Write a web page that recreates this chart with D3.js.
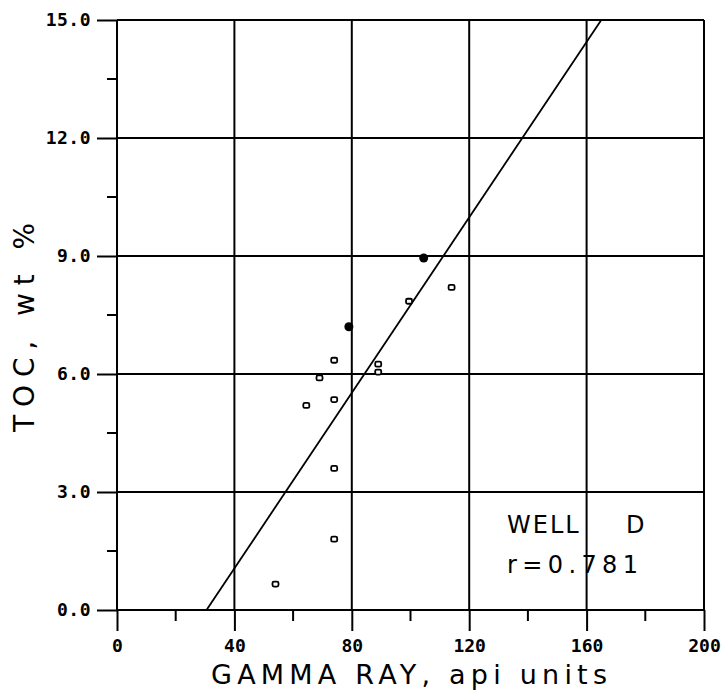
<!DOCTYPE html>
<html>
<head>
<meta charset="utf-8">
<script src="https://cdn.jsdelivr.net/npm/d3@7"></script>
<style>
  body { margin: 0; background: #fff; }
  svg text { fill: #000; }
</style>
</head>
<body>
<svg width="727" height="692"></svg>
<script>
const width = 727;
const height = 692;
const margin = { top: 20, right: 23, bottom: 82, left: 117 };

// data
const openGR = [54, 64.5, 69, 74, 74, 74, 74, 89, 89, 99.5, 114];
const openTOC = [0.66, 5.2, 5.9, 6.35, 5.35, 3.6, 1.8, 6.25, 6.05, 7.85, 8.2];
const filledGR = [79, 104.5];
const filledTOC = [7.2, 8.95];
const fitGR = [30.5, 165];
const fitTOC = [0, 15];

const xMajor = [0, 40, 80, 120, 160, 200];
const xMinor = [20, 60, 100, 140, 180];
const yMajor = [0, 3, 6, 9, 12, 15];
const yMinor = [1.5, 4.5, 7.5, 10.5, 13.5];

const svg = d3.select("svg");

const x = d3.scaleLinear()
  .domain([0, 200])
  .range([margin.left, width - margin.right]);

const y = d3.scaleLinear()
  .domain([0, 15])
  .range([height - margin.bottom, margin.top]);

const x0 = x(0), x1 = x(200), y0 = y(0), y1 = y(15);

// grid
svg.append("g")
  .selectAll("line")
  .data(xMajor)
  .join("line")
  .attr("x1", d => x(d)).attr("x2", d => x(d))
  .attr("y1", y1).attr("y2", y0)
  .attr("stroke", "#000").attr("stroke-width", 2);

svg.append("g")
  .selectAll("line")
  .data(yMajor)
  .join("line")
  .attr("x1", x0).attr("x2", x1)
  .attr("y1", d => y(d)).attr("y2", d => y(d))
  .attr("stroke", "#000").attr("stroke-width", 2);

// x axis ticks
const xAxis = svg.append("g")
  .attr("transform", `translate(0,${y0})`);
xAxis.call(d3.axisBottom(x).tickValues(xMajor).tickSize(21).tickPadding(8)
  .tickFormat(d3.format("d")));
xAxis.select(".domain").remove();
xAxis.selectAll("line").attr("stroke-width", 2);
xAxis.selectAll("text")
  .attr("font-family", "DejaVu Sans Mono")
  .attr("font-weight", "bold")
  .attr("font-size", 18);

svg.append("g")
  .selectAll("line")
  .data(xMinor)
  .join("line")
  .attr("x1", d => x(d)).attr("x2", d => x(d))
  .attr("y1", y0).attr("y2", y0 + 11)
  .attr("stroke", "#000").attr("stroke-width", 2);

// y axis ticks
const yAxis = svg.append("g")
  .attr("transform", `translate(${x0},0)`);
yAxis.call(d3.axisLeft(y).tickValues(yMajor).tickSize(20).tickPadding(6)
  .tickFormat(d3.format(".1f")));
yAxis.select(".domain").remove();
yAxis.selectAll("line").attr("stroke-width", 2);
yAxis.selectAll("text")
  .attr("font-family", "DejaVu Sans Mono")
  .attr("font-weight", "bold")
  .attr("font-size", 18)
  .attr("letter-spacing", 0.5);

svg.append("g")
  .selectAll("line")
  .data(yMinor)
  .join("line")
  .attr("x1", x0 - 10).attr("x2", x0)
  .attr("y1", d => y(d)).attr("y2", d => y(d))
  .attr("stroke", "#000").attr("stroke-width", 2);

// regression line
svg.append("line")
  .attr("x1", x(fitGR[0])).attr("y1", y(fitTOC[0]))
  .attr("x2", x(fitGR[1])).attr("y2", y(fitTOC[1]))
  .attr("stroke", "#000").attr("stroke-width", 1.8);

// open squares
svg.append("g")
  .selectAll("rect")
  .data(openGR.map((g, i) => ({ gr: g, toc: openTOC[i] })))
  .join("rect")
  .attr("x", d => x(d.gr) - 3)
  .attr("y", d => y(d.toc) - 2.5)
  .attr("width", 6).attr("height", 5)
  .attr("rx", 1.5)
  .attr("fill", "#fff")
  .attr("stroke", "#000").attr("stroke-width", 1.8);

// filled circles
svg.append("g")
  .selectAll("circle")
  .data(filledGR.map((g, i) => ({ gr: g, toc: filledTOC[i] })))
  .join("circle")
  .attr("cx", d => x(d.gr))
  .attr("cy", d => y(d.toc))
  .attr("r", 4.5)
  .attr("fill", "#000");

// annotation
const note = svg.append("g")
  .attr("font-family", "DejaVu Sans")
  .attr("font-size", 24)
  .attr("letter-spacing", 2);

note.append("text").attr("x", 507).attr("y", 533).text("WELL");
note.append("text").attr("x", 626).attr("y", 533).text("D");
note.append("text").attr("x", 507).attr("y", 573)
  .attr("textLength", 133).attr("lengthAdjust", "spacing")
  .text("r=0.781");

// axis titles
svg.append("text")
  .attr("x", 211).attr("y", 684)
  .attr("font-family", "DejaVu Sans")
  .attr("font-size", 27)
  .attr("textLength", 396).attr("lengthAdjust", "spacing")
  .text("GAMMA RAY, api units");

svg.append("text")
  .attr("transform", "translate(34,432) rotate(-90)")
  .attr("font-family", "DejaVu Sans")
  .attr("font-size", 28)
  .attr("textLength", 209).attr("lengthAdjust", "spacing")
  .text("TOC,  wt %");
</script>
</body>
</html>
